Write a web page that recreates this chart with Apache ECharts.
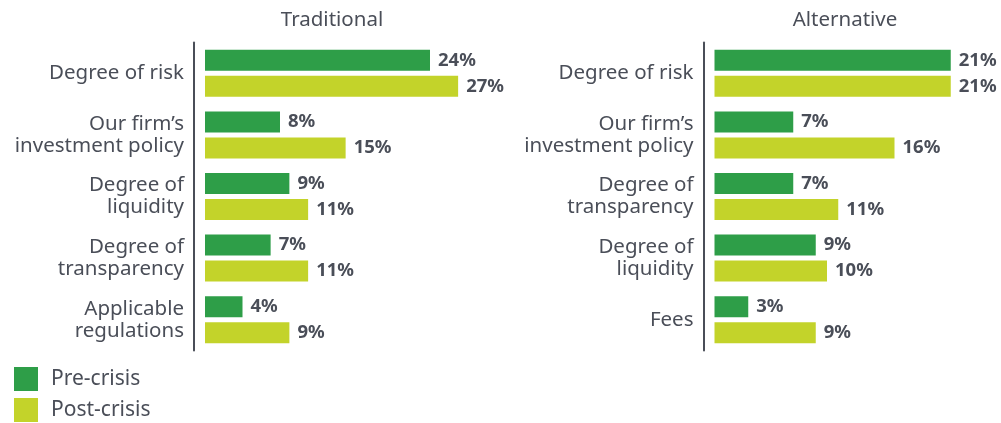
<!DOCTYPE html>
<html>
<head>
<meta charset="utf-8">
<script src="https://cdn.jsdelivr.net/npm/echarts@6/dist/echarts.min.js"></script>
<style>
  html, body { margin: 0; padding: 0; background: #fff; }
  #main { width: 1001px; height: 423px; }
</style>
</head>
<body>
<div id="main"></div>
<script>
// data
const tradCategories = ['Degree of risk', 'Our firm\u2019s\ninvestment policy', 'Degree of\nliquidity', 'Degree of\ntransparency', 'Applicable\nregulations'];
const tradPre = [24, 8, 9, 7, 4];
const tradPost = [27, 15, 11, 11, 9];

const altCategories = ['Degree of risk', 'Our firm\u2019s\ninvestment policy', 'Degree of\ntransparency', 'Degree of\nliquidity', 'Fees'];
const altPre = [21, 7, 7, 9, 3];
const altPost = [21, 16, 11, 10, 9];

const GREEN = '#2e9e48';
const LIME = '#c3d32a';
const TEXT = '#4a4e58';
const FONT = 'Noto Sans';

const chart = echarts.init(document.getElementById('main'));

function yAx(gi, cats) {
  return {
    type: 'category',
    gridIndex: gi,
    data: cats,
    inverse: true,
    offset: 11,
    axisLine: { show: true, onZero: false, lineStyle: { color: TEXT, width: 2 } },
    axisTick: { show: false },
    axisLabel: { color: TEXT, fontSize: 20.5, fontFamily: FONT, margin: 10, lineHeight: 22, align: 'right' }
  };
}

function xAx(gi, max) {
  return { type: 'value', gridIndex: gi, min: 0, max: max, show: false, splitLine: { show: false } };
}

function bars(name, data, gi, color) {
  return {
    name: name,
    type: 'bar',
    xAxisIndex: gi,
    yAxisIndex: gi,
    data: data,
    barWidth: 21,
    barGap: '24%',
    itemStyle: { color: color },
    label: {
      show: true,
      position: 'right',
      distance: 8,
      formatter: '{c}%',
      color: TEXT,
      fontSize: 18.5,
      fontWeight: 'bold',
      fontFamily: FONT
    }
  };
}

chart.setOption({
  animation: false,
  textStyle: { fontFamily: FONT },
  title: [
    { text: 'Traditional', left: 327, top: 5, textAlign: 'center', textStyle: { color: TEXT, fontSize: 20.5, fontWeight: 'normal', fontFamily: FONT } },
    { text: 'Alternative', left: 840, top: 5, textAlign: 'center', textStyle: { color: TEXT, fontSize: 20.5, fontWeight: 'normal', fontFamily: FONT } }
  ],
  legend: {
    orient: 'vertical',
    left: 14,
    top: 367,
    padding: 0,
    itemWidth: 24,
    itemHeight: 24,
    itemGap: 7,
    icon: 'rect',
    data: ['Pre-crisis', 'Post-crisis'],
    textStyle: { color: TEXT, fontSize: 21, fontFamily: FONT, padding: [0, 0, 0, 8] }
  },
  grid: [
    { left: 205, top: 42.5, width: 281.25, height: 308 },
    { left: 714.5, top: 42.5, width: 281.25, height: 308 }
  ],
  xAxis: [xAx(0, 30), xAx(1, 25)],
  yAxis: [yAx(0, tradCategories), yAx(1, altCategories)],
  series: [
    bars('Pre-crisis', tradPre, 0, GREEN),
    bars('Post-crisis', tradPost, 0, LIME),
    bars('Pre-crisis', altPre, 1, GREEN),
    bars('Post-crisis', altPost, 1, LIME)
  ]
});
</script>
</body>
</html>
